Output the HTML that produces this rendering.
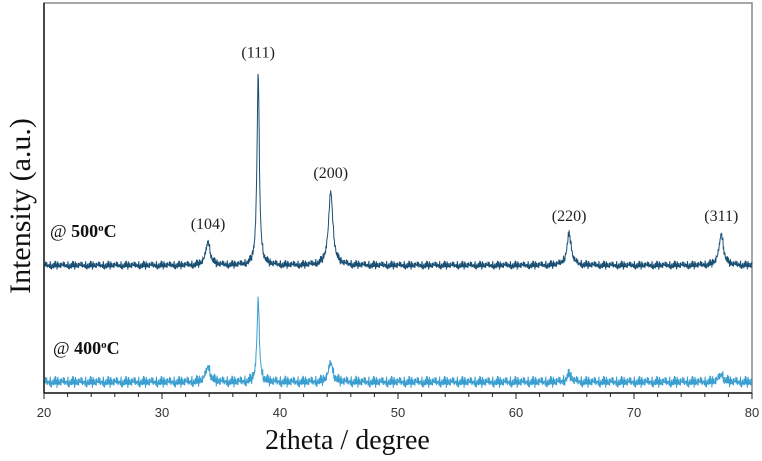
<!DOCTYPE html>
<html><head><meta charset="utf-8"><style>
body{margin:0;background:#fff;}
svg{display:block;}
</style></head><body>
<svg id="chart" width="762" height="461" xmlns="http://www.w3.org/2000/svg">
<rect x="44" y="3" width="708" height="390" fill="#fff" stroke="#888" stroke-width="1.5"/>
<g id="series"></g>
<line x1="44" y1="3" x2="44" y2="393" stroke="#222" stroke-width="1.5"/>
<line x1="44" y1="393" x2="752" y2="393" stroke="#222" stroke-width="1.5"/>
<g id="ticks"></g>
<text x="265" y="449" font-family="Liberation Serif, serif" font-size="28" fill="#111">2theta / degree</text>
<text transform="translate(30,206) rotate(-90)" text-anchor="middle" font-family="Liberation Serif, serif" font-size="30" fill="#111">Intensity (a.u.)</text>
<text x="50" y="237" font-family="Liberation Serif, serif" font-size="18" fill="#111">@ <tspan font-weight="bold">500</tspan><tspan font-size="11" dy="-6" font-weight="bold">o</tspan><tspan dy="6" font-weight="bold">C</tspan></text>
<text x="53" y="354" font-family="Liberation Serif, serif" font-size="18" fill="#111">@ <tspan font-weight="bold">400</tspan><tspan font-size="11" dy="-6" font-weight="bold">o</tspan><tspan dy="6" font-weight="bold">C</tspan></text>
<g id="peaklabels"></g>
</svg>
<script>
const xTicks=[20,30,40,50,60,70,80];
const peakPos=[33.9,38.15,44.3,64.5,77.4];
const peakNames=["(104)","(111)","(200)","(220)","(311)"];
const h500=[6,49,19,8,8];
const h400=[4,21,5,2,2];
const base500=32.5;
const base400=2.5;
const noise=[0.5,-0.8,1.2,-0.3,0.9,-1.1,0.2,1.6,-0.6,0.4,-1.3,0.8,-0.2,1.0,-0.9,0.3,2.1,-0.5,0.6,-1.0,0.1,1.3,-0.7,0.7,-0.4,1.8,-1.2,0.0,0.9,-0.6,1.1,-0.3,0.4,-1.4,0.6,2.4,-0.8,0.2,1.4,-0.1,0.3,-0.9,1.5,-0.2,0.7];
const sx=v=>44+(v-20)/60*708;
const sy=v=>393-v/100*390;
const NS='http://www.w3.org/2000/svg';
function curve(heights,base,nscale,color,name){
  let d='';
  for(let i=0;i<=1800;i++){
    const t=20+i*60/1800;
    let v=base;
    for(let k=0;k<peakPos.length;k++){const w=k==1?0.12:0.22;const u=(t-peakPos[k])/w;v+=heights[k]/(1+u*u);}
    v+=noise[i%noise.length]*nscale+noise[(i*7)%noise.length]*nscale*0.5+noise[(i*13)%noise.length]*nscale*0.4;
    d+=(i?'L':'M')+sx(t).toFixed(1)+','+sy(Math.max(v,0.2)).toFixed(1);
  }
  const p=document.createElementNS(NS,'path');
  p.setAttribute('d',d);p.setAttribute('fill','none');p.setAttribute('stroke',color);p.setAttribute('stroke-width','1');
  
  
  document.getElementById('series').appendChild(p);
}
curve(h500,base500,0.6,'#1a4f74','series-500c');
curve(h400,base400,0.8,'#3a9fd0','series-400c');
const tg=document.getElementById('ticks');
for(let v=20;v<=80;v+=2){
  const l=document.createElementNS(NS,'line');
  l.setAttribute('x1',sx(v));l.setAttribute('x2',sx(v));l.setAttribute('y1',393);l.setAttribute('y2',v%10?397:399);
  l.setAttribute('stroke','#222');
  
  
  tg.appendChild(l);
}
xTicks.forEach(v=>{
  const t=document.createElementNS(NS,'text');
  t.setAttribute('x',sx(v));t.setAttribute('y',417);t.setAttribute('text-anchor','middle');
  t.setAttribute('font-family','Liberation Sans, sans-serif');t.setAttribute('font-size','13');t.setAttribute('fill','#333');
  t.textContent=v;
  
  
  tg.appendChild(t);
});
const pl=document.getElementById('peaklabels');
peakPos.forEach((p,k)=>{
  const t=document.createElementNS(NS,'text');
  t.setAttribute('x',sx(p));t.setAttribute('y',sy(base500+h500[k]+(k==1?1:0))-14);t.setAttribute('text-anchor','middle');
  t.setAttribute('font-family','Liberation Serif, serif');t.setAttribute('font-size','16');t.setAttribute('fill','#222');
  t.textContent=peakNames[k];
  
  
  pl.appendChild(t);
});
</script>
</body></html>
